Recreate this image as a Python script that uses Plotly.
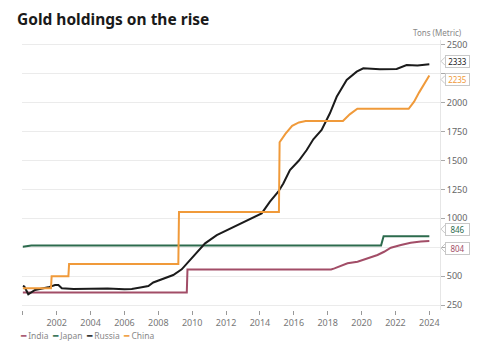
import plotly.graph_objects as go

# ---------------- data (tons, metric) ----------------
india_years = [2000.0, 2009.68, 2009.72, 2018.2, 2018.4, 2019.17, 2019.76, 2020.35, 2020.94,
               2021.33, 2021.73, 2022.32, 2022.9, 2023.5, 2024.0]
india_tons = [358, 358, 558, 558, 567, 611, 625, 654, 683, 711, 746, 769, 789, 800, 804]

japan_years = [2000.0, 2000.5, 2021.15, 2021.3, 2024.0]
japan_tons = [754, 765, 765, 846, 846]

russia_years = [2000.0, 2000.09, 2000.32, 2000.72, 2001.5, 2001.9, 2002.1, 2002.3, 2003.0,
                2004.0, 2005.0, 2006.0, 2006.43, 2007.02, 2007.41, 2007.7, 2008.1, 2008.88,
                2009.38, 2009.68, 2010.06, 2010.46, 2010.76, 2011.45, 2012.43, 2013.42,
                2014.1, 2014.59, 2015.08, 2015.38, 2015.77, 2016.3, 2016.76, 2017.15,
                2017.64, 2018.13, 2018.53, 2019.12, 2019.71, 2020.1, 2021.08, 2022.07,
                2022.66, 2023.3, 2024.0]
russia_tons = [414, 410, 343, 380, 403, 423, 423, 395, 388, 390, 392, 386, 388, 403, 414, 445,
               466, 510, 559, 610, 668, 740, 784, 855, 927, 1000, 1043, 1144, 1230, 1302,
               1418, 1500, 1591, 1684, 1764, 1909, 2052, 2197, 2269, 2298, 2289, 2292, 2327,
               2322, 2333]

china_years = [2000.0, 2001.66, 2001.7, 2002.69, 2002.73, 2009.18, 2009.22, 2015.12, 2015.16,
               2015.5, 2015.9, 2016.3, 2016.7, 2018.9, 2019.3, 2019.75, 2022.78, 2023.1,
               2023.4, 2023.7, 2024.0]
china_tons = [395, 395, 500, 500, 605, 605, 1054, 1054, 1658, 1730, 1800, 1830, 1842, 1842,
              1900, 1948, 1948, 2010, 2090, 2160, 2235]

series_names = ["India", "Japan", "Russia", "China"]
series_colors = ["#a24d67", "#2c6b4d", "#1b1b1b", "#f09a3a"]
series_years = [india_years, japan_years, russia_years, china_years]
series_tons = [india_tons, japan_tons, russia_tons, china_tons]

end_labels = ["2333", "2235", "846", "804"]
end_values = [2333, 2235, 846, 804]
end_colors = ["#1b1b1b", "#f09a3a", "#2c6b4d", "#a24d67"]
end_shifts = [3, -4, 7, -7]

x_tick_vals = list(range(2000, 2025, 2))
x_tick_text = [""] + [str(v) for v in range(2002, 2025, 2)]
y_tick_vals = list(range(250, 2501, 250))
y_tick_text = ["250", "500", "", "1000", "1250", "1500", "1750", "2000", "", "2500"]

FONT = "Noto Sans"

fig = go.Figure()
for name, col, xs, ys in zip(series_names, series_colors, series_years, series_tons):
    fig.add_trace(go.Scatter(x=xs, y=ys, mode="lines", name=name,
                             line=dict(color=col, width=2), showlegend=False))

W, H = 477, 352  # page body adds an 8px margin
fig.update_layout(
    width=W, height=H,
    margin=dict(l=14, r=45, t=32, b=50),
    paper_bgcolor="white", plot_bgcolor="white",
    font=dict(family=FONT, size=9, color="#666"),
    title=dict(text="<b>Gold holdings on the rise</b>", x=9 / W, xanchor="left",
               xref="container", y=1 - 12 / H, yanchor="middle", yref="container",
               font=dict(family=FONT, size=15.5, color="#1a1a1a")),
    xaxis=dict(range=[1999.95, 2024.63], tickvals=x_tick_vals, ticktext=x_tick_text,
               showgrid=False, zeroline=False, showline=False,
               ticks="outside", ticklen=4, tickcolor="#999", tickfont=dict(size=9, color="#777")),
    yaxis=dict(range=[207, 2543], side="right", tickvals=y_tick_vals, ticktext=y_tick_text,
               showgrid=True, gridcolor="#ebebeb", gridwidth=1, zeroline=False,
               showline=True, linecolor="#e6e6e6", ticks="outside", ticklen=4,
               tickcolor="#aaa", tickfont=dict(size=9, color="#666")),
)

# axis title
fig.add_annotation(text="Tons (Metric)", xref="paper", yref="paper", x=0.995, y=1.026,
                   xanchor="center", yanchor="middle", showarrow=False,
                   font=dict(size=8, color="#888"))

# end-value callouts
for lab, val, col, sh in zip(end_labels, end_values, end_colors, end_shifts):
    fig.add_annotation(text=lab, xref="paper", yref="y", x=1, y=val, xanchor="left",
                       xshift=5, yshift=sh, showarrow=False, bordercolor="#c8c8c8",
                       borderwidth=1, borderpad=0, bgcolor="white", width=23,
                       font=dict(size=8, color=col))
    fig.add_shape(type="path", xref="paper", xsizemode="pixel", xanchor=1,
                  yref="y", ysizemode="pixel", yanchor=val,
                  path=f"M 5,{sh - 4} L 1,{sh} L 5,{sh + 4}",
                  line=dict(color="#c8c8c8", width=1))

# legend as text row
legend_html = "&nbsp;&nbsp;".join(
    f"<span style='color:{c}'>━</span>&nbsp;{n}" for n, c in zip(series_names, series_colors)
)
fig.add_annotation(text=legend_html, xref="paper", yref="paper", x=-0.01, y=-0.096,
                   xanchor="left", yanchor="middle", showarrow=False,
                   font=dict(size=8.5, color="#888"))

fig.write_html("out.html")
